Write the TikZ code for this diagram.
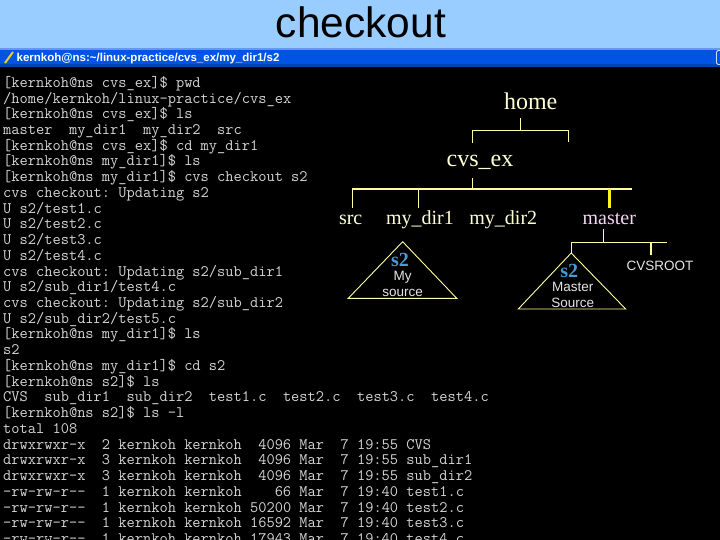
\documentclass[tikz,border=0pt]{standalone}
\usepackage{fontspec}
\newfontfamily\arialfont{Liberation Sans}
\newfontfamily\timesfont{Liberation Serif}
\definecolor{slideblue}{RGB}{153,204,255}
\definecolor{xpblue}{RGB}{0,84,227}
\definecolor{termtext}{RGB}{214,214,214}
\definecolor{treeyellow}{RGB}{255,255,160}
\definecolor{labelyellow}{RGB}{255,255,212}
\definecolor{masterpink}{RGB}{244,214,244}
\definecolor{srcblue}{RGB}{72,156,214}
\tikzset{
  dir/.style={font=\timesfont\fontsize{20}{20}\selectfont, text=labelyellow, anchor=base,
    text height=16pt, text depth=3pt, inner xsep=0pt, inner ysep=1pt},
  treeline/.style={draw=treeyellow, line width=1.1pt},
  masterline/.style={draw=yellow!90!white, line width=2.5pt},
  s2label/.style={font=\timesfont\bfseries\fontsize{20}{20}\selectfont, text=srcblue, anchor=base, inner sep=0pt},
  note/.style={font=\arialfont\fontsize{13.5}{13.5}\selectfont, text=white!90!black, anchor=base, inner sep=0pt},
  termline/.style={font=\ttfamily\frenchspacing\fontsize{15.98}{15.73}\selectfont, text=termtext,
    anchor=base west, inner sep=0pt}
}
\begin{document}
\begin{tikzpicture}[x=1pt, y=-1pt]
  \useasboundingbox (0,0) rectangle (720,540);
  % Slide title
  \fill[slideblue] (0,0) rectangle (720,48);
  \node[font=\arialfont\fontsize{42.5}{42.5}\selectfont, anchor=base, inner sep=0pt] (title) at (361,37.5) {checkout};
  % Window title bar
  \fill[xpblue] (0,48) rectangle (720,67);
  \fill[xpblue!60!white] (0,48) rectangle (720,50.5);
  \fill[xpblue!80!black] (0,64.5) rectangle (720,67);
  \draw[line width=2pt, yellow!60!brown] (5,63) -- (13,52);
  \draw[line width=0.8pt, white!80!xpblue, rounded corners=1.5pt] (720,50.5) -- (716.5,50.5) -- (716.5,64.5) -- (720,64.5);
  \node[font=\arialfont\bfseries\fontsize{11.5}{11.5}\selectfont, text=white, anchor=base west, inner sep=0pt]
    (winpath) at (16.5,61.5) {kernkoh@ns:\textasciitilde/linux-practice/cvs\_ex/my\_dir1/s2};
  % Terminal
  \fill[black] (0,67) rectangle (720,540);
  \foreach \txt [count=\i] in {
    {[}kernkoh@ns cvs\_ex{]}\$ pwd,
    /home/kernkoh/linux-practice/cvs\_ex,
    {[}kernkoh@ns cvs\_ex{]}\$ ls,
    master\ \ my\_dir1\ \ my\_dir2\ \ src,
    {[}kernkoh@ns cvs\_ex{]}\$ cd my\_dir1,
    {[}kernkoh@ns my\_dir1{]}\$ ls,
    {[}kernkoh@ns my\_dir1{]}\$ cvs checkout s2,
    cvs checkout: Updating s2,
    U s2/test1.c,
    U s2/test2.c,
    U s2/test3.c,
    U s2/test4.c,
    cvs checkout: Updating s2/sub\_dir1,
    U s2/sub\_dir1/test4.c,
    cvs checkout: Updating s2/sub\_dir2,
    U s2/sub\_dir2/test5.c,
    {[}kernkoh@ns my\_dir1{]}\$ ls,
    s2,
    {[}kernkoh@ns my\_dir1{]}\$ cd s2,
    {[}kernkoh@ns s2{]}\$ ls,
    CVS\ \ sub\_dir1\ \ sub\_dir2\ \ test1.c\ \ test2.c\ \ test3.c\ \ test4.c,
    {[}kernkoh@ns s2{]}\$ ls -l,
    total 108,
    drwxrwxr-x\ \ 2 kernkoh kernkoh\ \ 4096 Mar\ \ 7 19:55 CVS,
    drwxrwxr-x\ \ 3 kernkoh kernkoh\ \ 4096 Mar\ \ 7 19:55 sub\_dir1,
    drwxrwxr-x\ \ 3 kernkoh kernkoh\ \ 4096 Mar\ \ 7 19:55 sub\_dir2,
    -rw-rw-r-{}-\ \ 1 kernkoh kernkoh\ \ \ \ 66 Mar\ \ 7 19:40 test1.c,
    -rw-rw-r-{}-\ \ 1 kernkoh kernkoh 50200 Mar\ \ 7 19:40 test2.c,
    -rw-rw-r-{}-\ \ 1 kernkoh kernkoh 16592 Mar\ \ 7 19:40 test3.c,
    -rw-rw-r-{}-\ \ 1 kernkoh kernkoh 17943 Mar\ \ 7 19:40 test4.c}
    \node[termline] (line\i) at (3,{87.3+15.73*(\i-1)}) {\txt};
  % Tree: home and cvs_ex
  \node[dir, font=\timesfont\fontsize{24}{24}\selectfont, inner ysep=5pt] (home) at (530.7,110) {home};
  \node[dir, font=\timesfont\fontsize{24}{24}\selectfont, inner ysep=8pt] (cvsex) at (480,167) {cvs\_ex};
  \coordinate (homebar) at (520.7,130.7);
  \coordinate (cvsexdrop) at (472.3,130.7);
  \coordinate (homeright) at (568.7,142.3);
  \draw[treeline] (home.south -| homebar) -- (homebar);
  \draw[treeline] (cvsex.north -| cvsexdrop) -- (cvsexdrop) -| (homeright);
  % Tree: below cvs_ex
  \node[dir] (src) at (350.7,225) {src};
  \node[dir] (mydirone) at (420,225) {my\_dir1};
  \node[dir] (mydirtwo) at (503.3,225) {my\_dir2};
  \node[dir, text=masterpink] (master) at (609.3,225) {master};
  \coordinate (cvsexbar) at (472.3,189);
  \coordinate (barleft) at (352.7,189);
  \coordinate (barright) at (631.7,189);
  \coordinate (mydironedrop) at (418.3,189);
  \draw[treeline] (cvsex.south -| cvsexbar) -- (cvsexbar);
  \draw[treeline] (src.north -| barleft) -- (barleft) -- (barright);
  \draw[treeline] (mydirone.north -| mydironedrop) -- (mydironedrop);
  \draw[masterline] (master.north) -- (master.north |- barright);
  % Checked out s2
  \coordinate (mytop) at (402.7,241.7);
  \coordinate (myleft) at (348.3,298.3);
  \coordinate (myright) at (456.7,298.3);
  \draw[treeline, line width=0.9pt] (mytop) -- (myleft) -- (myright) -- cycle;
  \node[s2label] (mys2) at (400,266) {s2};
  \node[note] (mynoteone) at (402.7,280.7) {My};
  \node[note] (mynotetwo) at (402.7,296) {source};
  % Repository under master
  \node[note, inner ysep=5pt] (cvsroot) at (660,270) {CVSROOT};
  \coordinate (masterbar) at (603.3,242.3);
  \coordinate (masterleft) at (571.2,242.3);
  \coordinate (masterright) at (666.7,242.3);
  \coordinate (rootdrop) at (651,242.3);
  \coordinate (reptop) at (571.2,253);
  \coordinate (repleft) at (518.3,309);
  \coordinate (repright) at (625.7,309);
  \draw[treeline] (master.south -| masterbar) -- (masterbar);
  \draw[treeline] (reptop) -- (masterleft) -- (masterright);
  \draw[treeline] (cvsroot.north -| rootdrop) -- (rootdrop);
  \draw[treeline, line width=0.9pt] (reptop) -- (repleft) -- (repright) -- cycle;
  \node[s2label] (masters2) at (569.3,277.5) {s2};
  \node[note] (masternoteone) at (572.7,291) {Master};
  \node[note] (masternotetwo) at (572.7,307.7) {Source};
\end{tikzpicture}
\end{document}
